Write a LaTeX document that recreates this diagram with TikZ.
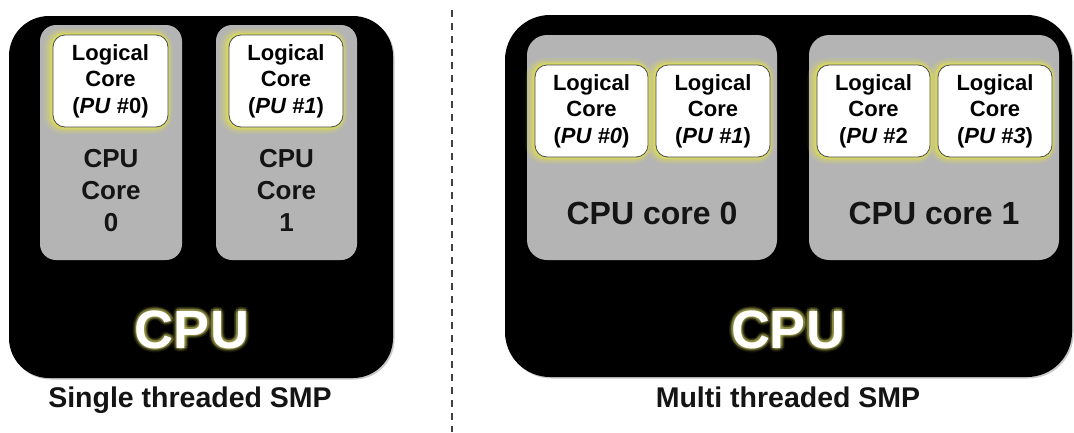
\documentclass[tikz,border=0pt]{standalone}
\usepackage{fontspec}
\setmainfont{Liberation Sans}
\usetikzlibrary{shadows}
\definecolor{coregray}{HTML}{B4B4B4}
\definecolor{glowy}{HTML}{E6E640}
\definecolor{glowtxt}{HTML}{C8C860}
\definecolor{textblack}{HTML}{141414}
\begin{document}
\begin{tikzpicture}[x=1pt,y=-1pt,
  cpubox/.style={fill=black, inner sep=0pt,
    drop shadow={shadow xshift=1.5pt, shadow yshift=-1.5pt, opacity=0.35, fill=black!60}},
  corebox/.style={fill=coregray, rounded corners=16pt, inner sep=0pt},
  coretxt/.style={text=textblack, font=\bfseries\fontsize{26}{32}\selectfont, align=center, inner sep=0pt},
  coretxtB/.style={text=textblack, font=\bfseries\fontsize{32}{36}\selectfont, inner sep=0pt, anchor=base},
  lcbox/.style={fill=white, draw=black!70, line width=0.8pt, rounded corners=12pt, inner sep=0pt,
    align=center, text=black, font=\bfseries\fontsize{22}{26.5}\selectfont, minimum height=92pt,
    preaction={draw=glowy, line width=14pt, draw opacity=0.12, transform canvas={xshift=-2.5pt}},
    preaction={draw=glowy, line width=9pt, draw opacity=0.25, transform canvas={xshift=-2pt}},
    preaction={draw=glowy, line width=4.5pt, draw opacity=0.5, transform canvas={xshift=-1pt}}},
  bigcpu/.style={text=white, font=\bfseries\fontsize{54}{54}\selectfont, inner sep=0pt, anchor=base},
  cpuglow/.style={bigcpu, text=glowtxt},
  caption/.style={text=textblack, font=\bfseries\fontsize{28.5}{30}\selectfont, inner sep=0pt, anchor=base},
  divider/.style={draw=black!75, line width=1.6pt, dash pattern=on 7pt off 6pt}
]
\useasboundingbox (0,0) rectangle (1074,432);
\fill[white] (0,0) rectangle (1074,432);

% ---------------- left: single threaded ----------------
\node[cpubox, rounded corners=40pt, minimum width=384pt, minimum height=362pt] (cpuL) at (201,197) {};
\node[corebox, minimum width=142pt, minimum height=235pt] (coreL0) at (111,142.5) {};
\node[corebox, minimum width=141pt, minimum height=235pt] (coreL1) at (286.5,142.5) {};
\node[lcbox, minimum width=115pt] (lcL0) at (110.5,81) {Logical\\Core\\(\textit{PU} \#0)};
\node[lcbox, minimum width=114pt] (lcL1) at (286,81) {Logical\\Core\\(\textit{PU \#1})};
\node[coretxt] (ctL0) at (111,190.7) {CPU\\Core\\0};
\node[coretxt] (ctL1) at (286.5,190.7) {CPU\\Core\\1};
\foreach \a in {0,30,...,330}{
  \node[cpuglow, opacity=0.07] (gLa\a) at ([shift={(\a:4)}]192,348) {CPU};
  \node[cpuglow, opacity=0.14] (gLb\a) at ([shift={(\a:2.2)}]192,348) {CPU};
}
\node[bigcpu] (cpuLtxt) at (192,348) {CPU};
\node[caption] (capL) at (190,407) {Single threaded SMP};

% ---------------- divider ----------------
\coordinate (divTop) at (452,10);
\coordinate (divBot) at (452,432);
\draw[divider] (divTop) -- (divBot);

% ---------------- right: multi threaded ----------------
\node[cpubox, rounded corners=45pt, minimum width=567pt, minimum height=362pt] (cpuR) at (788.5,196) {};
\node[corebox, rounded corners=20pt, minimum width=250pt, minimum height=225pt] (coreR0) at (652,147.5) {};
\node[corebox, rounded corners=20pt, minimum width=250pt, minimum height=225pt] (coreR1) at (934,147.5) {};
\node[lcbox, minimum width=113pt] (lcR0) at (591.5,111) {Logical\\Core\\(\textit{PU \#0})};
\node[lcbox, minimum width=114pt] (lcR1) at (713,111) {Logical\\Core\\(\textit{PU \#1})};
\node[lcbox, minimum width=113pt] (lcR2) at (873.5,111) {Logical\\Core\\(\textit{PU} \#2};
\node[lcbox, minimum width=114pt] (lcR3) at (995,111) {Logical\\Core\\(\textit{PU \#3})};
\node[coretxtB] (ctR0) at (652,224) {CPU core 0};
\node[coretxtB] (ctR1) at (934,224) {CPU core 1};
\foreach \a in {0,30,...,330}{
  \node[cpuglow, opacity=0.07] (gRa\a) at ([shift={(\a:4)}]788,348) {CPU};
  \node[cpuglow, opacity=0.14] (gRb\a) at ([shift={(\a:2.2)}]788,348) {CPU};
}
\node[bigcpu] (cpuRtxt) at (788,348) {CPU};
\node[caption] (capR) at (788,407) {Multi threaded SMP};
\end{tikzpicture}
\end{document}
